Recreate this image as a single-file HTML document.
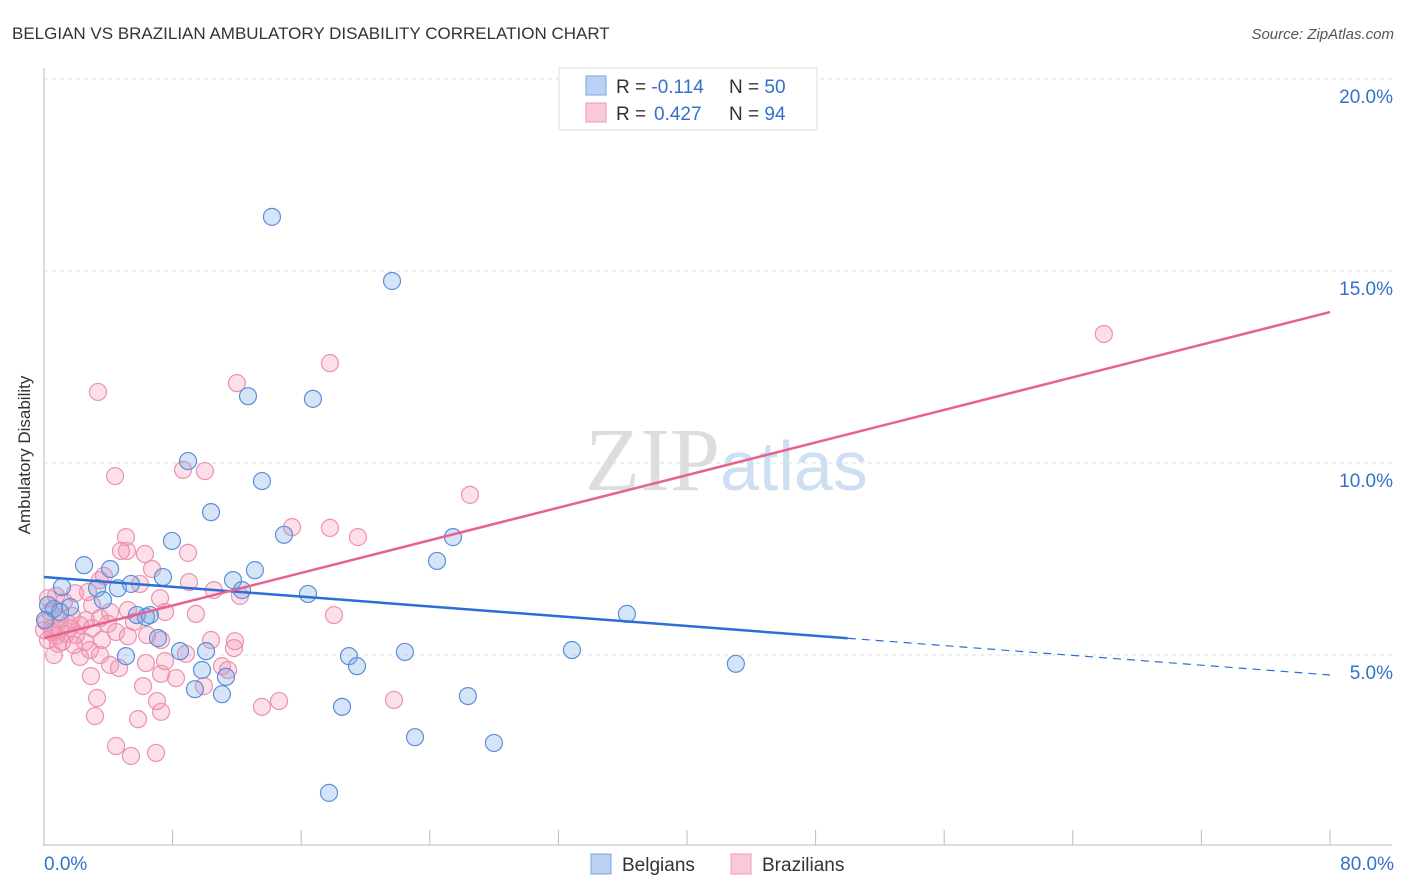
<!DOCTYPE html>
<html><head><meta charset="utf-8"><style>
body{margin:0;background:#fff;font-family:"Liberation Sans",sans-serif}
svg{display:block}
</style></head><body>
<svg width="1406" height="892" viewBox="0 0 1406 892">
<text x="12" y="39" font-size="17" fill="#333">BELGIAN VS BRAZILIAN AMBULATORY DISABILITY CORRELATION CHART</text>
<text x="1394" y="39" font-size="15" fill="#555" font-style="italic" text-anchor="end">Source: ZipAtlas.com</text>
<g id="grid"></g>
<text x="720" y="490" font-size="90" font-family="Liberation Serif" fill="#ddd" text-anchor="end">ZIP</text>
<text x="720" y="490" font-size="70" fill="#cfdff2">atlas</text>
<text x="30" y="455" font-size="17" fill="#333" text-anchor="middle" transform="rotate(-90 30 455)">Ambulatory Disability</text>
<g id="pts"></g>
<g id="lines"></g>
<g>
<rect x="559" y="68" width="258" height="62" fill="#fff" stroke="#ddd"/>
<rect x="586" y="76" width="20" height="19" fill="#b9d2f3" stroke="#7aa6e0"/>
<rect x="586" y="103" width="20" height="19" fill="#f9c9d7" stroke="#ec9db6"/>
<text x="616" y="93" font-size="19" fill="#333">R = <tspan fill="#3370cc">-0.114</tspan><tspan x="729">N = </tspan><tspan fill="#3370cc">50</tspan></text>
<text x="616" y="120" font-size="19" fill="#333">R = <tspan fill="#3370cc" x="654">0.427</tspan><tspan x="729">N = </tspan><tspan fill="#3370cc">94</tspan></text>
</g>
<g>
<rect x="591" y="854" width="20" height="20" fill="#b9d2f3" stroke="#7aa6e0"/>
<text x="622" y="871" font-size="19" fill="#333">Belgians</text>
<rect x="731" y="854" width="20" height="20" fill="#f9c9d7" stroke="#ec9db6"/>
<text x="762" y="871" font-size="19" fill="#333">Brazilians</text>
</g>
</svg>
<script>
const blueX=[14.18,21.65,12.69,16.73,8.96,13.56,10.39,7.96,14.93,25.44,24.45,13.12,2.49,4.11,7.40,11.76,1.12,4.60,5.41,3.30,16.42,12.32,1.62,0.62,3.67,5.78,6.59,6.34,36.26,7.09,5.10,8.46,10.08,18.97,22.45,32.84,43.04,9.83,19.47,11.32,9.39,11.07,26.37,18.54,23.08,27.99,17.73,0.25,0.06,1.00];
const blueY=[16.41,14.74,11.74,11.67,10.05,9.53,8.72,7.97,8.13,8.07,7.45,7.21,7.34,7.24,7.03,6.95,6.77,6.74,6.85,6.74,6.59,6.69,6.25,6.20,6.43,6.04,6.04,5.99,6.07,5.44,4.97,5.10,5.10,4.97,5.08,5.13,4.77,4.61,4.71,4.43,4.11,3.98,3.93,3.65,2.86,2.71,1.41,6.30,5.91,6.12];
const pinkX=[65.93,17.79,12.00,3.36,10.01,8.65,4.42,26.50,15.43,17.79,19.53,5.10,5.16,4.79,6.28,8.96,6.72,3.73,3.48,5.97,9.02,10.57,12.19,7.22,1.93,2.74,0.75,0.25,1.24,2.99,4.11,5.22,7.53,9.45,18.04,1.74,1.00,2.61,3.48,0.12,0.50,1.00,1.62,2.24,2.99,3.98,5.60,0.75,1.37,1.99,0.25,0.87,4.48,6.41,10.39,11.88,11.82,8.83,2.55,3.61,5.22,7.28,0.50,1.49,2.24,4.11,6.34,7.53,4.67,11.07,7.28,2.92,8.21,11.45,9.95,6.16,3.30,7.03,21.77,14.62,13.56,7.28,3.17,5.85,4.48,5.41,6.97,0.00,0.37,1.12,1.87,2.86,3.48,0.62];
const pinkY=[13.36,12.60,12.08,11.85,9.79,9.82,9.66,9.17,8.33,8.31,8.07,8.07,7.71,7.71,7.63,7.66,7.24,7.06,6.95,6.85,6.90,6.69,6.54,6.48,6.61,6.64,6.54,6.48,6.38,6.30,6.12,6.17,6.12,6.07,6.04,6.02,5.91,5.91,5.96,5.86,5.70,5.65,5.70,5.78,5.70,5.81,5.86,5.49,5.55,5.52,5.39,5.29,5.60,5.52,5.39,5.36,5.18,5.03,5.34,5.39,5.49,5.39,5.60,5.81,4.95,4.74,4.79,4.84,4.66,4.71,4.51,4.45,4.40,4.61,4.19,4.19,3.88,3.80,3.83,3.80,3.65,3.52,3.41,3.33,2.63,2.37,2.45,5.65,6.12,5.34,5.26,5.13,5.00,5.00];
const yTicks=[5,10,15,20];
const yTickLabels=["5.0%","10.0%","15.0%","20.0%"];
const xTickLabels=["0.0%","80.0%"];
const blueTrend=[7.03,4.48];
const pinkTrend=[5.44,13.93];
const NS="http://www.w3.org/2000/svg";
const sx=v=>44+v*16.075, sy=v=>847-v*38.4;
function mk(t,a,p){const e=document.createElementNS(NS,t);for(const k in a)e.setAttribute(k,a[k]);p.appendChild(e);return e;}
const g=document.getElementById('grid');
yTicks.forEach((t,i)=>{
 const l=mk('line',{x1:44,x2:1392,y1:sy(t),y2:sy(t),stroke:'#ddd','stroke-dasharray':'4,4'},g);
 
 
 const tx=mk('text',{x:1393,y:sy(t)+24,'font-size':19,fill:'#3370cc','text-anchor':'end'},g);
 tx.textContent=yTickLabels[i];
 
 
});
const ax=mk('line',{x1:44,x2:44,y1:68,y2:846,stroke:'#bbb'},g);


const bx=mk('line',{x1:44,x2:1392,y1:845,y2:845,stroke:'#bbb'},g);


for(let i=1;i<=10;i++){const t=mk('line',{x1:sx(i*8),x2:sx(i*8),y1:830,y2:845,stroke:'#bbb'},g);
 
 }
[[0,'start',44],[80,'end',1394]].forEach((d,i)=>{const t=mk('text',{x:d[2],y:870,'font-size':19,fill:'#3370cc','text-anchor':d[1]},g);t.textContent=xTickLabels[i];
 
 });
const P=document.getElementById('pts');
pinkX.forEach((x,i)=>{const c=mk('circle',{cx:sx(x),cy:sy(pinkY[i]),r:8.5,fill:'rgba(244,150,180,0.3)',stroke:'#eb93ae','stroke-width':1.2},P);
 
 });
blueX.forEach((x,i)=>{const c=mk('circle',{cx:sx(x),cy:sy(blueY[i]),r:8.5,fill:'rgba(120,165,230,0.3)',stroke:'#5b8fd9','stroke-width':1.2},P);
 
 });
const L=document.getElementById('lines');
const bAt=x=>blueTrend[0]+(blueTrend[1]-blueTrend[0])*x/80;
const l1=mk('line',{x1:sx(0),y1:sy(bAt(0)),x2:sx(50),y2:sy(bAt(50)),stroke:'#2b6fd6','stroke-width':2.5},L);


const l2=mk('line',{x1:sx(50),y1:sy(bAt(50)),x2:sx(80),y2:sy(bAt(80)),stroke:'#2b6fd6','stroke-width':1.2,'stroke-dasharray':'8,6'},L);


const l3=mk('line',{x1:sx(0),y1:sy(pinkTrend[0]),x2:sx(80),y2:sy(pinkTrend[1]),stroke:'#e8628f','stroke-width':2.5},L);


</script>
</body></html>
